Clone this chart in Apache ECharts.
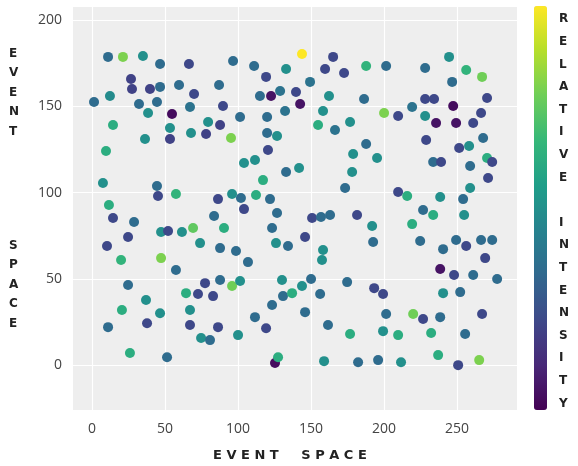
<!DOCTYPE html>
<html><head><meta charset="utf-8">
<script src="https://cdn.jsdelivr.net/npm/echarts@6/dist/echarts.min.js"></script>
<style>html,body{margin:0;padding:0;background:#fff}#c{width:578px;height:466px}</style>
</head><body><div id="c"></div>
<script>
// Event positions (x), event positions (y), relative intensity (0..1)
const xs = [11.0,21.2,34.9,46.6,66.4,96.6,26.7,27.4,12.3,1.4,39.7,46.6,59.6,69.9,87,32.2,44.5,38.4,54.8,67.1,89.7,14.4,53.4,67.8,79.5,78.1,87.7,95.2,36.3,53.4,
111,119.2,132.9,143.8,165.1,159.6,172.6,187.7,201.4,149.3,115,122.6,128.8,139.7,142.5,162.3,186.3,200,101.4,119.9,132.2,158.2,154.8,166.4,176.7,119.9,126.7,
228.1,244.5,256.2,267.1,246.6,228.1,234.2,270.5,219.2,247.3,209.6,228.1,235.6,249.3,261,266.4,267.8,
7.5,11.6,14.4,10.3,19.9,24.7,28.8,44.5,45.2,57.5,47.3,52.1,61.6,69.2,74,47.3,57.5,83.6,86.3,90.4,95.9,102,104.1,104.1,111.6,120.5,132.9,141.8,117.1,112.3,121.9,123.3,126.7,126,134.2,150.7,156.8,163,173.3,178.1,178.8,187.7,195.2,228.8,233.6,239,251.4,258.2,258.9,258.9,270.5,274,271.2,254.1,254.8,256.2,266.4,274,240.4,233.6,219.2,224.7,209.6,215.8,238.4,226.7,191.8,192.5,181.5,158.2,145.9,130.1,106.8,87.7,98.6,
269.2,238.4,247.9,261,277.4,240.4,252.1,267.1,238.4,249.3,
24.7,11,20.5,26,37,37.7,51.4,46.6,64.4,72.6,77.4,82.9,87.7,67.1,67.1,74.7,80.8,86.3,95.9,101.4,100,111.6,119.2,123.3,125.3,127.4,130.8,137,143.8,145.9,150,156.2,157.5,161.6,174.7,176.7,193.2,199.3,201.4,199.3,209.6,211.6,195.9,182.2,158.9,219.9,226.7,232.2,237,250.7,265.1,255.5,
9.6];
const ys = [178.6,178.6,179.1,174.5,174.5,176.2,165.8,160,155.9,152.5,160,161.2,162.3,157.1,162.3,151.3,152.5,146.1,145.5,149.6,150.1,139.1,137.4,134.5,140.9,133.9,139.1,131.6,131,131,
173.3,167,171.6,180.3,178.6,171.6,169.3,173.3,173.3,164.1,155.9,155.9,158.8,158.3,151.3,155.9,154.2,146.1,143.8,143.8,147.2,147.2,139.1,136.2,140.9,134.5,132.8,
172.2,178.6,171,167,164.1,154.2,154.2,154.8,149.6,150.1,144.3,144.3,140.3,140.3,140.3,146.1,131.6,
105.5,92.8,85.2,69,60.9,74.2,82.9,103.8,98,99.1,77.1,77.7,77.1,79.4,70.7,62,55.1,86.4,96.2,79.4,99.1,96.8,90.4,117.1,118.8,124.6,111.9,114.2,107.2,98.6,96.2,79.4,88.1,70.7,69,85.2,85.8,87,102.6,111.9,122.3,128.1,120,130.4,117.7,117.7,125.8,127,115.4,102.6,120,117.7,108.4,96.2,87,69,72.5,72.5,67.2,87,81.7,71.9,100.3,98,97.4,89.9,80.6,71.3,87,66.7,74.2,49.3,59.7,67.8,66.1,
62,55.7,52.2,52.2,49.9,41.7,42.3,29.6,27.8,72.5,
46.4,22,31.9,7,37.7,24.3,4.6,30.1,41.7,41.2,47.5,40,49.3,31.9,23.2,15.7,14.5,22,45.8,48.7,17.4,27.8,21.4,34.8,1.2,4.6,40,41.7,45.8,30.7,49.9,41.2,60.9,23.2,48.1,18,44.6,41.2,29.6,19.7,17.4,1.7,2.9,1.7,2.3,29.6,26.7,18.6,5.8,0,2.9,18,
124.1];
const vs = [0.35,0.8,0.5,0.35,0.22,0.35,0.2,0.2,0.48,0.35,0.2,0.35,0.35,0.22,0.35,0.35,0.35,0.5,0.03,0.38,0.22,0.62,0.5,0.5,0.5,0.2,0.2,0.8,0.5,0.2,
0.35,0.22,0.5,1.0,0.22,0.22,0.22,0.65,0.35,0.38,0.35,0.05,0.38,0.22,0.05,0.5,0.35,0.8,0.35,0.35,0.38,0.5,0.62,0.38,0.5,0.35,0.5,
0.35,0.5,0.65,0.78,0.35,0.22,0.22,0.22,0.38,0.03,0.22,0.5,0.05,0.05,0.22,0.22,0.35,
0.5,0.62,0.22,0.22,0.65,0.22,0.35,0.35,0.22,0.65,0.5,0.22,0.5,0.75,0.5,0.8,0.35,0.35,0.22,0.62,0.5,0.35,0.22,0.5,0.5,0.22,0.35,0.5,0.62,0.62,0.35,0.35,0.35,0.5,0.35,0.22,0.35,0.35,0.35,0.5,0.5,0.35,0.5,0.22,0.35,0.22,0.22,0.5,0.35,0.5,0.62,0.22,0.22,0.35,0.5,0.22,0.35,0.35,0.35,0.62,0.62,0.35,0.22,0.62,0.5,0.35,0.5,0.35,0.22,0.5,0.22,0.5,0.35,0.35,0.35,
0.22,0.05,0.22,0.35,0.35,0.5,0.35,0.22,0.35,0.35,
0.35,0.35,0.62,0.62,0.5,0.22,0.35,0.5,0.62,0.22,0.22,0.22,0.35,0.5,0.22,0.5,0.35,0.22,0.78,0.5,0.5,0.35,0.22,0.35,0.03,0.62,0.35,0.62,0.5,0.35,0.35,0.35,0.5,0.35,0.35,0.62,0.22,0.22,0.35,0.5,0.62,0.5,0.35,0.35,0.5,0.78,0.22,0.62,0.62,0.22,0.8,0.35,
0.62];
const xTicks = [0,50,100,150,200,250];
const yTicks = [0,50,100,150,200];
const viridis = ['#440154','#482878','#3e4989','#31688e','#26828e','#1f9e89','#35b779','#6ece58','#b5de2b','#fde725'];

const points = xs.map((x,i)=>[x, ys[i], vs[i]]);
const chart = echarts.init(document.getElementById('c'), null, {renderer:'canvas'});
const titleFont = {fontFamily:'DejaVu Sans', fontWeight:'bold', fontSize:12, fill:'#222'};
chart.setOption({
  animation:false,
  backgroundColor:'#fff',
  grid:{left:73, right:61, top:7, bottom:56, show:true, backgroundColor:'#eeeeee', borderWidth:0},
  xAxis:{type:'value', min:-13, max:291,
    axisLine:{show:false}, axisTick:{show:false, customValues:xTicks},
    axisLabel:{customValues:xTicks, color:'#444', fontSize:14, fontFamily:'Open Sans', margin:12},
    splitLine:{show:true, lineStyle:{color:'#ffffff', width:1.2}}},
  yAxis:{type:'value', min:-26, max:207.5,
    axisLine:{show:false}, axisTick:{show:false, customValues:yTicks},
    axisLabel:{customValues:yTicks, color:'#444', fontSize:14, fontFamily:'Open Sans', margin:11},
    splitLine:{show:true, lineStyle:{color:'#ffffff', width:1.2}}},
  visualMap:{type:'continuous', min:0, max:1, dimension:2, show:true, calculable:false, padding:0,
    left:534, top:6, itemWidth:13, itemHeight:404, inRange:{color:viridis}, text:null, showLabel:false, hoverLink:false},
  graphic:[
    {type:'text', left:9, top:44, style:Object.assign({text:'E\nV\nE\nN\nT', lineHeight:19.5, align:'center'}, titleFont)},
    {type:'text', left:9, top:236, style:Object.assign({text:'S\nP\nA\nC\nE', lineHeight:19.5, align:'center'}, titleFont)},
    {type:'text', left:559, top:8, style:Object.assign({text:'R\nE\nL\nA\nT\nI\nV\nE\n\nI\nN\nT\nE\nN\nS\nI\nT\nY', lineHeight:22.6, align:'center'}, titleFont)},
    {type:'text', left:213, top:449, style:Object.assign({text:'E V E N T     S P A C E'}, titleFont, {fontSize:13})}
  ],
  series:[{type:'scatter', data:points, symbolSize:10, itemStyle:{opacity:1}}]
});
</script></body></html>
